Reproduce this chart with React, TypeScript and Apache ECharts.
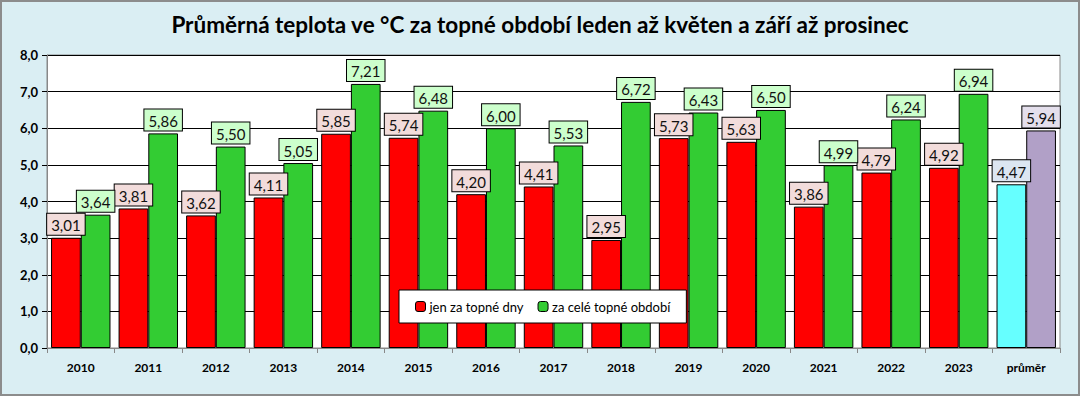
import React, { useEffect, useRef } from "react";
import * as echarts from "echarts";

const categories = ["2010", "2011", "2012", "2013", "2014", "2015", "2016", "2017", "2018", "2019", "2020", "2021", "2022", "2023", "průměr"];
const heatingDays = [3.01, 3.81, 3.62, 4.11, 5.85, 5.74, 4.2, 4.41, 2.95, 5.73, 5.63, 3.86, 4.79, 4.92, 4.47];
const wholePeriod = [3.64, 5.86, 5.5, 5.05, 7.21, 6.48, 6.0, 5.53, 6.72, 6.43, 6.5, 4.99, 6.24, 6.94, 5.94];
const yTicks = [0, 1, 2, 3, 4, 5, 6, 7, 8];

const FONT = "Lato, 'Open Sans', 'DejaVu Sans', sans-serif";

function fmt(v: number, d: number) {
  return v.toFixed(d).replace(".", ",");
}

export default function App() {
  const ref = useRef<HTMLDivElement>(null);
  useEffect(() => {
    document.body.style.margin = "0";
    const chart = echarts.init(ref.current!, null, { renderer: "svg" });
    const last = categories.length - 1;
    const mkLabel = (bg: string) => ({
      show: true,
      position: "top" as const,
      distance: 3,
      formatter: (p: any) => fmt(p.value, 2),
      fontFamily: FONT,
      fontSize: 15,
      color: "#111",
      backgroundColor: bg,
      borderColor: "#000",
      borderWidth: 1,
      padding: [4, 4, 2, 4],
    });
    chart.setOption({
      animation: false,
      backgroundColor: "#DAEEF3",
      title: {
        text: "Průměrná teplota ve °C za topné období leden až květen a září až prosinec",
        left: "center",
        top: 6,
        textStyle: { fontFamily: FONT, fontSize: 22.5, fontWeight: "bold", color: "#000" },
      },
      grid: { left: 45, right: 18, top: 53, bottom: 46, show: true, backgroundColor: "#fff", borderColor: "#888", borderWidth: 1 },
      legend: {
        left: 397,
        top: 288,
        itemWidth: 10,
        itemHeight: 10,
        itemGap: 14,
        padding: [10, 16, 10, 16],
        backgroundColor: "#fff",
        borderColor: "#000",
        borderWidth: 1,
        textStyle: { fontFamily: FONT, fontSize: 13, color: "#000", padding: [0, 0, 0, -1] },
        data: [
          { name: "jen za topné dny", itemStyle: { color: "#FF0000", borderColor: "#000", borderWidth: 1 } },
          { name: "za celé topné období", itemStyle: { color: "#33CC33", borderColor: "#000", borderWidth: 1 } },
        ],
      },
      xAxis: {
        type: "category",
        data: categories,
        axisLine: { show: true, lineStyle: { color: "#888" } },
        axisTick: { show: true, length: 5, lineStyle: { color: "#888" } },
        axisLabel: { fontFamily: FONT, fontSize: 12, fontWeight: "bold", color: "#000", margin: 13 },
      },
      yAxis: {
        type: "value",
        min: 0,
        max: yTicks[yTicks.length - 1],
        interval: 1,
        axisLine: { show: true, lineStyle: { color: "#888" } },
        axisTick: { show: true, length: 5, lineStyle: { color: "#000" } },
        splitLine: { show: true, lineStyle: { color: "#000", width: 1 } },
        axisLabel: { fontFamily: FONT, fontSize: 13, fontWeight: "bold", color: "#000", margin: 9, formatter: (v: number) => fmt(v, 1) },
      },
      series: [
        {
          name: "jen za topné dny",
          type: "bar",
          barGap: "0%",
          barCategoryGap: "12%",
          itemStyle: { color: "#FF0000", borderColor: "#000", borderWidth: 1 },
          label: mkLabel("#F2DCDB"),
          data: heatingDays.map((v, i) =>
            i === last
              ? { value: v, itemStyle: { color: "#66FFFF" }, label: { backgroundColor: "#DCE6F2" } }
              : { value: v }
          ),
        },
        {
          name: "za celé topné období",
          type: "bar",
          itemStyle: { color: "#33CC33", borderColor: "#000", borderWidth: 1 },
          label: mkLabel("#CCFFCC"),
          data: wholePeriod.map((v, i) =>
            i === last
              ? { value: v, itemStyle: { color: "#B1A0C7" }, label: { backgroundColor: "#E4DFEC" } }
              : { value: v }
          ),
        },
      ],
    });
    return () => chart.dispose();
  }, []);
  return (
    <div style={{ width: 1080, height: 396, boxSizing: "border-box", border: "2px solid #8c8c8c", background: "#DAEEF3" }}>
      <div ref={ref} style={{ width: 1076, height: 392 }} />
    </div>
  );
}
